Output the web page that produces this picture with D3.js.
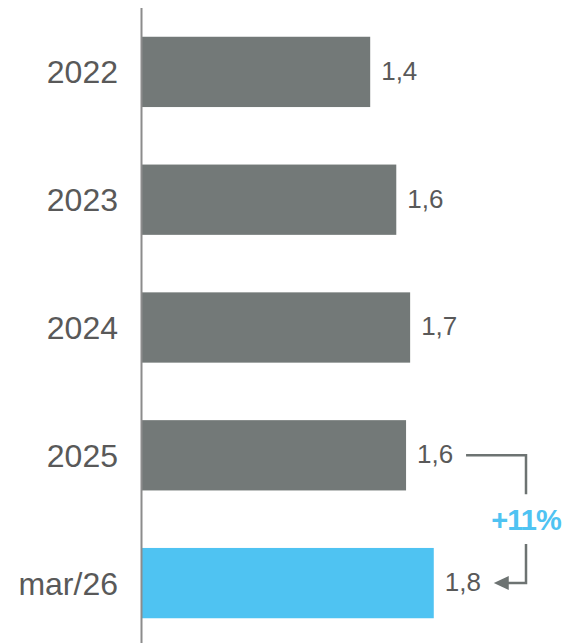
<!DOCTYPE html>
<html>
<head>
<meta charset="utf-8">
<script src="https://cdn.jsdelivr.net/npm/d3@7"></script>
<style>
  body { margin: 0; background: #fff; }
  svg { display: block; font-family: "Liberation Sans", Arial, sans-serif; }
</style>
</head>
<body>
<svg id="chart" width="566" height="643"></svg>
<script>
"use strict";

// data
const categories = ["2022", "2023", "2024", "2025", "mar/26"];
const values = [1.40, 1.56, 1.645, 1.62, 1.79];
const valueLabels = ["1,4", "1,6", "1,7", "1,6", "1,8"];
const growthLabel = "+11%";

const gray = "#737978";
const blue = "#4fc3f2";
const textColor = "#595959";

const svg = d3.select("#chart");

const y = d3.scaleBand()
    .domain(categories)
    .range([8, 647])
    .paddingInner(0.45)
    .paddingOuter(0.225);

const x = d3.scaleLinear()
    .domain([0, 2])
    .range([142, 468]);

// bars
svg.append("g").selectAll("rect")
    .data(categories)
    .join("rect")
    .attr("x", x(0))
    .attr("y", d => y(d))
    .attr("width", (d, i) => x(values[i]) - x(0))
    .attr("height", y.bandwidth())
    .attr("fill", (d, i) => i == categories.length - 1 ? blue : gray);

// axis line
svg.append("line")
    .attr("x1", 141.5).attr("x2", 141.5)
    .attr("y1", 8).attr("y2", 643)
    .attr("stroke", "#8c8c8c")
    .attr("stroke-width", 2);

// category labels
svg.append("g").selectAll("text")
    .data(categories)
    .join("text")
    .attr("x", 118)
    .attr("y", d => y(d) + y.bandwidth() / 2)
    .attr("dy", "0.36em")
    .attr("text-anchor", "end")
    .attr("fill", textColor)
    .style("font-size", "32px")
    .text(d => d);

// value labels
svg.append("g").selectAll("text")
    .data(categories)
    .join("text")
    .attr("x", (d, i) => x(values[i]) + 11)
    .attr("y", d => y(d) + y.bandwidth() / 2)
    .attr("dy", "0.3em")
    .attr("fill", textColor)
    .style("font-size", "26px")
    .text((d, i) => valueLabels[i]);

// growth connector between last two bars
const yA = y(categories[3]) + y.bandwidth() / 2;
const yB = y(categories[4]) + y.bandwidth() / 2;
const cx = 526;
const lineColor = "#6d7372";

svg.append("path")
    .attr("d", `M${x(values[3]) + 60},${yA} H${cx} V${yA + 39}`)
    .attr("fill", "none")
    .attr("stroke", lineColor)
    .attr("stroke-width", 2.5);

svg.append("path")
    .attr("d", `M${cx},${yB - 39} V${yB} H${x(values[4]) + 72}`)
    .attr("fill", "none")
    .attr("stroke", lineColor)
    .attr("stroke-width", 2.5);

const tip = x(values[4]) + 60;
svg.append("path")
    .attr("d", `M${tip},${yB} L${tip + 15},${yB - 7} L${tip + 15},${yB + 7} Z`)
    .attr("fill", lineColor);

svg.append("text")
    .attr("x", cx)
    .attr("y", (yA + yB) / 2)
    .attr("dy", "0.36em")
    .attr("text-anchor", "middle")
    .attr("fill", blue)
    .style("font-size", "29px")
    .style("font-weight", "bold")
    .style("letter-spacing", "-1px")
    .text(growthLabel);
</script>
</body>
</html>
